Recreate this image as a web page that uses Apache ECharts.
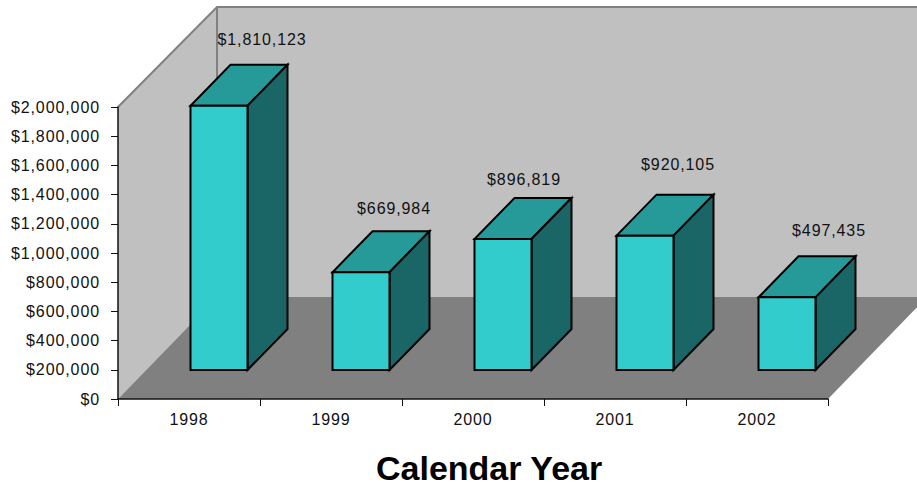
<!DOCTYPE html>
<html>
<head>
<meta charset="utf-8">
<style>
html,body{margin:0;padding:0;background:#fff}
#c{width:917px;height:487px}
svg text{letter-spacing:.9px}
svg text[style*="bold"]{letter-spacing:0}
</style>
<script src="https://cdn.jsdelivr.net/npm/echarts@6/dist/echarts.min.js"></script>
</head>
<body>
<div id="c"></div>
<script>
const categories = ['1998', '1999', '2000', '2001', '2002'];
const revenue = [1810123, 669984, 896819, 920105, 497435];
const axisMax = 2000000;
const axisStep = 200000;
const titleText = 'Calendar Year';

// projection of the 3D box, in pixels
const wallDepth = [99, -102];
const wallTopDrop = 2;
const barShift = [30, -29];
const barDepth = [40, -41];
const barWidth = 57;
const labelNudge = [[73, -95], [63, -93], [51, -89], [63, -100], [72, -96]];
const fmt = v => '$' + Number(v).toLocaleString('en-US');

const chart = echarts.init(document.getElementById('c'), null, {renderer: 'svg'});

function renderRoom(params, api) {
  const band = api.size([1, 0])[0];
  const o = api.coord([0, 0]);
  const t = api.coord([0, axisMax]);
  const l = o[0] - band / 2, r = l + band * categories.length;
  const b = o[1], h = t[1];
  const dx = wallDepth[0], dy = wallDepth[1];
  const top = h + dy + wallTopDrop;
  return {type: 'group', children: [
    {type: 'polygon', shape: {points: [[l + dx, top], [r + dx, top], [r + dx, b + dy], [l + dx, b + dy]]}, style: {fill: '#C0C0C0'}},
    {type: 'polygon', shape: {points: [[l, h], [l + dx, top], [l + dx, b + dy], [l, b]]}, style: {fill: '#C0C0C0'}},
    {type: 'polygon', shape: {points: [[l, b], [r, b], [r + dx, b + dy], [l + dx, b + dy]]}, style: {fill: '#808080'}},
    {type: 'polyline', shape: {points: [[l, h], [l + dx, top], [r + dx, top]]}, style: {fill: 'none', stroke: '#808080', lineWidth: 2}},
    {type: 'line', shape: {x1: l + dx, y1: top, x2: l + dx, y2: b + dy}, style: {stroke: '#808080', lineWidth: 2}}
  ]};
}

function renderBar(params, api) {
  const i = api.value(0), v = api.value(1);
  const top = api.coord([i, v]), base = api.coord([i, 0]);
  const x0 = top[0] + barShift[0] - barWidth / 2, x1 = x0 + barWidth;
  const y0 = top[1] + barShift[1], y1 = base[1] + barShift[1];
  const dx = barDepth[0], dy = barDepth[1];
  const line = {stroke: '#000', lineWidth: 2, lineJoin: 'miter'};
  const nudge = labelNudge[i];
  return {type: 'group', children: [
    {type: 'polygon', shape: {points: [[x0, y0], [x1, y0], [x1 + dx, y0 + dy], [x0 + dx, y0 + dy]]}, style: {fill: '#269999', ...line}},
    {type: 'polygon', shape: {points: [[x1, y0], [x1 + dx, y0 + dy], [x1 + dx, y1 + dy], [x1, y1]]}, style: {fill: '#1A6666', ...line}},
    {type: 'rect', shape: {x: x0, y: y0, width: barWidth, height: y1 - y0}, style: {fill: '#33CCCC', ...line}},
    {type: 'text', style: {text: fmt(v), x: top[0] + nudge[0], y: top[1] + nudge[1], align: 'center', verticalAlign: 'middle',
      fill: '#111', font: '16px "Liberation Sans"'}}
  ]};
}

chart.setOption({
  animation: false,
  backgroundColor: '#fff',
  title: {text: titleText, left: 376, top: 451, padding: 0, textStyle: {fontFamily: 'Liberation Sans', fontWeight: 'bold', fontSize: 34, color: '#000'}},
  grid: {left: 118, right: 89, top: 107, bottom: 88},
  xAxis: {
    type: 'category', data: categories, z: 5,
    axisLine: {lineStyle: {color: '#111', width: 1.5}},
    axisTick: {show: true, length: 7, lineStyle: {color: '#111'}},
    axisLabel: {margin: 12, color: '#111', fontFamily: 'Liberation Sans', fontSize: 16, interval: 0}
  },
  yAxis: {
    type: 'value', min: 0, max: axisMax, interval: axisStep, z: 5,
    axisLine: {show: true, lineStyle: {color: '#111', width: 1.5}},
    axisTick: {show: true, length: 7, lineStyle: {color: '#111'}},
    splitLine: {show: false},
    axisLabel: {margin: 18, color: '#111', fontFamily: 'Liberation Sans', fontSize: 16, formatter: fmt}
  },
  series: [
    {type: 'custom', coordinateSystem: 'cartesian2d', data: [[0, 0]], renderItem: renderRoom, silent: true, z: 1, clip: false},
    {type: 'custom', coordinateSystem: 'cartesian2d', data: revenue.map((v, i) => [i, v]), renderItem: renderBar, encode: {x: 0, y: 1}, z: 2, clip: false}
  ]
});
</script>
</body>
</html>
